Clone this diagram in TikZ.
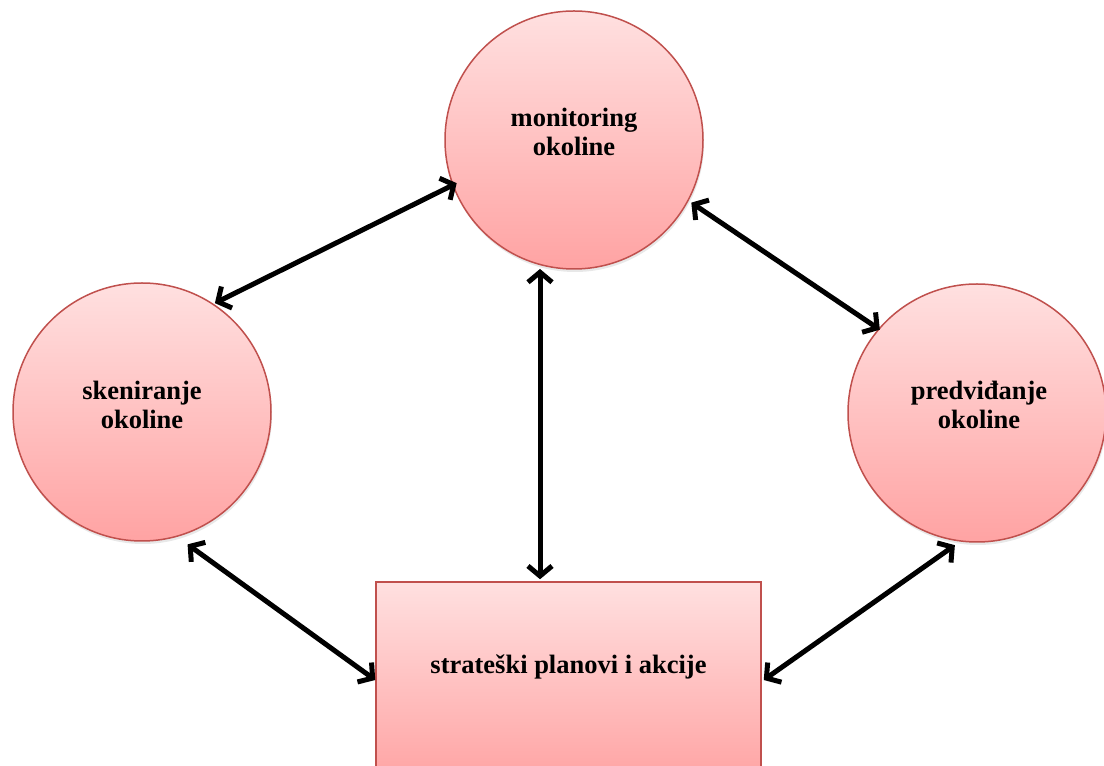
\documentclass[tikz,border=0pt]{standalone}
\usepackage{fontspec}
\setmainfont{Liberation Serif}
\usetikzlibrary{arrows.meta,calc,shadows}
\definecolor{pinktop}{RGB}{255,224,224}
\definecolor{pinkbot}{RGB}{255,163,163}
\definecolor{edgered}{RGB}{192,80,77}
\begin{document}
\begin{tikzpicture}[x=1pt,y=1pt,
  blob/.style={draw=edgered, line width=1.5pt, top color=pinktop, bottom color=pinkbot,
    drop shadow={opacity=0.18, shadow xshift=1pt, shadow yshift=-3pt}},
  circ/.style={blob, circle, minimum size=258pt, inner sep=0pt},
  plan/.style={blob, rectangle, minimum width=385pt, minimum height=200pt, inner sep=0pt},
  lbl/.style={font=\fontsize{26.5}{29}\selectfont\bfseries, align=center, text=black},
  conn/.style={line width=5pt, line cap=round, line join=round,
    {Straight Barb[length=10pt,width=24pt]}-{Straight Barb[length=10pt,width=24pt]}}
]
\clip (0,0) rectangle (1104,766);
\fill[white] (0,0) rectangle (1104,766);

\node[circ] (mon) at (574,626) {};
\node[circ] (skn) at (142,354) {};
\node[circ] (pre) at (977,353) {};
\node[plan] (pla) at (568.5,84) {};

\node[lbl] (monT) at (574,634) {monitoring\\okoline};
\node[lbl] (sknT) at (142,361) {skeniranje\\okoline};
\node[lbl] (preT) at (979,361) {predviđanje\\okoline};
\node[lbl] (plaT) at (568.5,99) {strateški planovi i akcije};

\coordinate (a1s) at ($(skn.center)+(56.2:131)$);
\coordinate (a1e) at ($(mon.center)+(200.2:125)$);
\coordinate (a2s) at ($(mon.center)+(-28.1:133)$);
\coordinate (a2e) at ($(pre.center)+(139.4:128)$);
\coordinate (a3s) at ($(mon.center)+(-34,-129)$);
\coordinate (a3e) at ($(pla.north)+(-28.5,2)$);
\coordinate (a4s) at ($(skn.center)+(-71:140)$);
\coordinate (a4e) at ($(pla.west)+(0,2)$);
\coordinate (a5s) at ($(pre.center)+(260.5:134)$);
\coordinate (a5e) at ($(pla.east)+(2,2)$);

\draw[conn] (a1s) -- (a1e);
\draw[conn] (a2s) -- (a2e);
\draw[conn] (a3s) -- (a3e);
\draw[conn] (a4s) -- (a4e);
\draw[conn] (a5s) -- (a5e);
\end{tikzpicture}
\end{document}
